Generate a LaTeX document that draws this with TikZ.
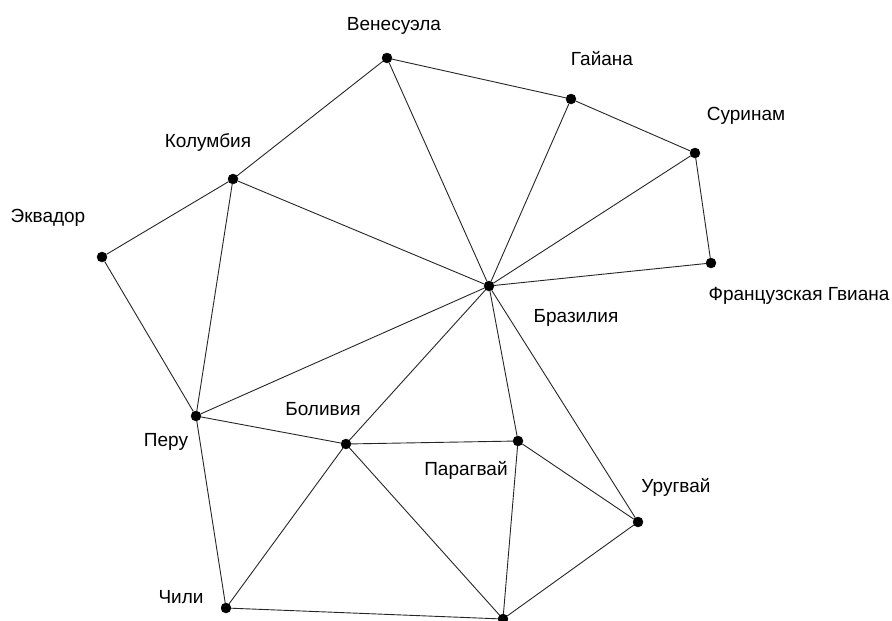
\documentclass[tikz,border=0pt]{standalone}
\usepackage{fontspec}
\setmainfont{Liberation Sans}
\usetikzlibrary{positioning}
\tikzstyle{vertex}=[circle,fill=black,draw=black,minimum size=10pt,inner sep=0pt]
\tikzstyle{country}=[font=\fontsize{19}{22}\selectfont,inner sep=0pt]

\begin{document}
\begin{tikzpicture}[x=1pt, y=-1pt]
\useasboundingbox (0,0) rectangle (892,621);

%countries
    \foreach \pos/\name in {{(387,58)/ven}, {(571,99)/guy}, {(695,153)/sur}, {(711,263)/fgu},
        {(233,179)/col}, {(102,257)/ecu}, {(489,286)/bra}, {(196,416)/per},
        {(346,444)/bol}, {(518,441)/par}, {(638,522)/uru}, {(226,608)/chi}, {(503,619)/arg}}
        \node[vertex] (\name) at \pos {};

%borders
  \foreach \source/ \dest in {ven/guy, guy/sur, sur/fgu, ven/col, ven/bra, guy/bra, sur/bra, fgu/bra,
        col/bra, col/ecu, col/per, ecu/per, per/bra, per/bol, per/chi, bol/bra, bol/par, bol/chi,
        bol/arg, bra/par, bra/uru, par/uru, par/arg, uru/arg, chi/arg}
          \draw[-, black!85, line width=0.9pt] (\source) -- (\dest);

%names
    \foreach \pos/\label in {{(394,26)/Венесуэла}, {(602,59)/Гайана}, {(746,116)/Суринам},
        {(799,296)/Французская Гвиана}, {(208,143)/Колумбия}, {(48,218)/Эквадор},
        {(576,318)/Бразилия}, {(323,409)/Боливия}, {(166,442)/Перу},
        {(466,470)/Парагвай}, {(676,487)/Уругвай}, {(181,597)/Чили}}
        \node[country] at \pos {\label};

\end{tikzpicture}
\end{document}
